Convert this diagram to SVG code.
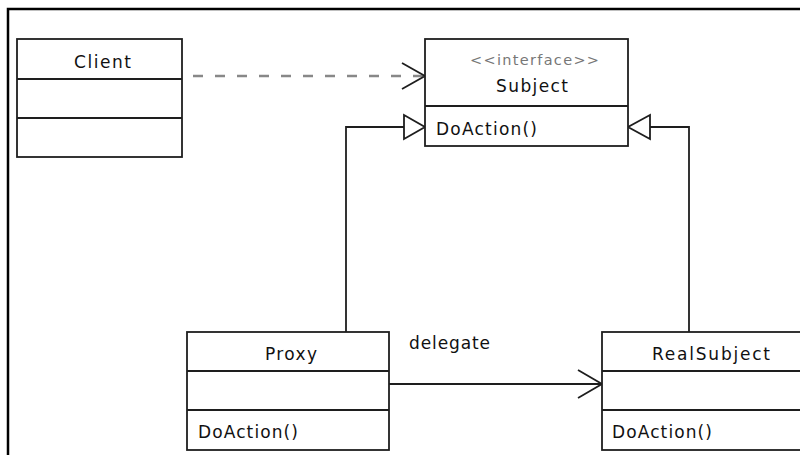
<svg xmlns="http://www.w3.org/2000/svg" width="800" height="455" viewBox="0 0 800 455">
<style>
.box{fill:#fff;stroke:#1e1e1e;stroke-width:1.8}
.div{stroke:#1e1e1e;stroke-width:1.8}
.t{font-family:"DejaVu Sans","Liberation Sans",sans-serif;font-size:17px;fill:#111}
.st{font-family:"DejaVu Sans","Liberation Sans",sans-serif;font-size:14.5px;fill:#777}
.ln{fill:none;stroke:#1e1e1e;stroke-width:1.8}
.tri{fill:#fff;stroke:#1e1e1e;stroke-width:1.8;stroke-linejoin:miter}
</style>
<rect width="800" height="455" fill="#fff"/>
<path d="M8,455 L8,9 L800,9" fill="none" stroke="#000" stroke-width="2.5"/>
<g id="connectors">
<line x1="193" y1="76" x2="423" y2="76" stroke="#888" stroke-width="2.5" stroke-dasharray="10,12"/>
<polyline class="ln" points="402,63 425,76 402,89"/>
<polyline class="ln" points="346,332 346,127 404,127"/>
<polygon class="tri" points="404,115 425,127 404,139"/>
<polyline class="ln" points="689,332 689,127 650,127"/>
<polygon class="tri" points="650,115 628,127 650,139"/>
<line class="ln" x1="389" y1="384" x2="601" y2="384"/>
<polyline class="ln" points="578,370 602,384 578,398"/>
<text class="t" x="409" y="349" textLength="81" lengthAdjust="spacing">delegate</text>
</g>
<g id="client">
<rect class="box" x="17" y="39" width="165" height="118"/>
<line class="div" x1="17" y1="79" x2="182" y2="79"/>
<line class="div" x1="17" y1="118" x2="182" y2="118"/>
<text class="t" x="74" y="68" textLength="57" lengthAdjust="spacing">Client</text>
</g>
<g id="subject">
<rect class="box" x="425" y="39" width="203" height="107"/>
<line class="div" x1="425" y1="106" x2="628" y2="106"/>
<text class="st" x="470" y="65" textLength="129" lengthAdjust="spacing">&lt;&lt;interface&gt;&gt;</text>
<text class="t" x="496" y="92" textLength="72" lengthAdjust="spacing">Subject</text>
<text class="t" x="436" y="135" textLength="101" lengthAdjust="spacing">DoAction()</text>
</g>
<g id="proxy">
<rect class="box" x="187" y="332" width="202" height="118"/>
<line class="div" x1="187" y1="371" x2="389" y2="371"/>
<line class="div" x1="187" y1="410" x2="389" y2="410"/>
<text class="t" x="265" y="360" textLength="52" lengthAdjust="spacing">Proxy</text>
<text class="t" x="198" y="438" textLength="100" lengthAdjust="spacing">DoAction()</text>
</g>
<g id="realsubject">
<rect class="box" x="602" y="332" width="220" height="118"/>
<line class="div" x1="602" y1="371" x2="822" y2="371"/>
<line class="div" x1="602" y1="410" x2="822" y2="410"/>
<text class="t" x="652" y="360" textLength="118" lengthAdjust="spacing">RealSubject</text>
<text class="t" x="612" y="438" textLength="100" lengthAdjust="spacing">DoAction()</text>
</g>
</svg>
